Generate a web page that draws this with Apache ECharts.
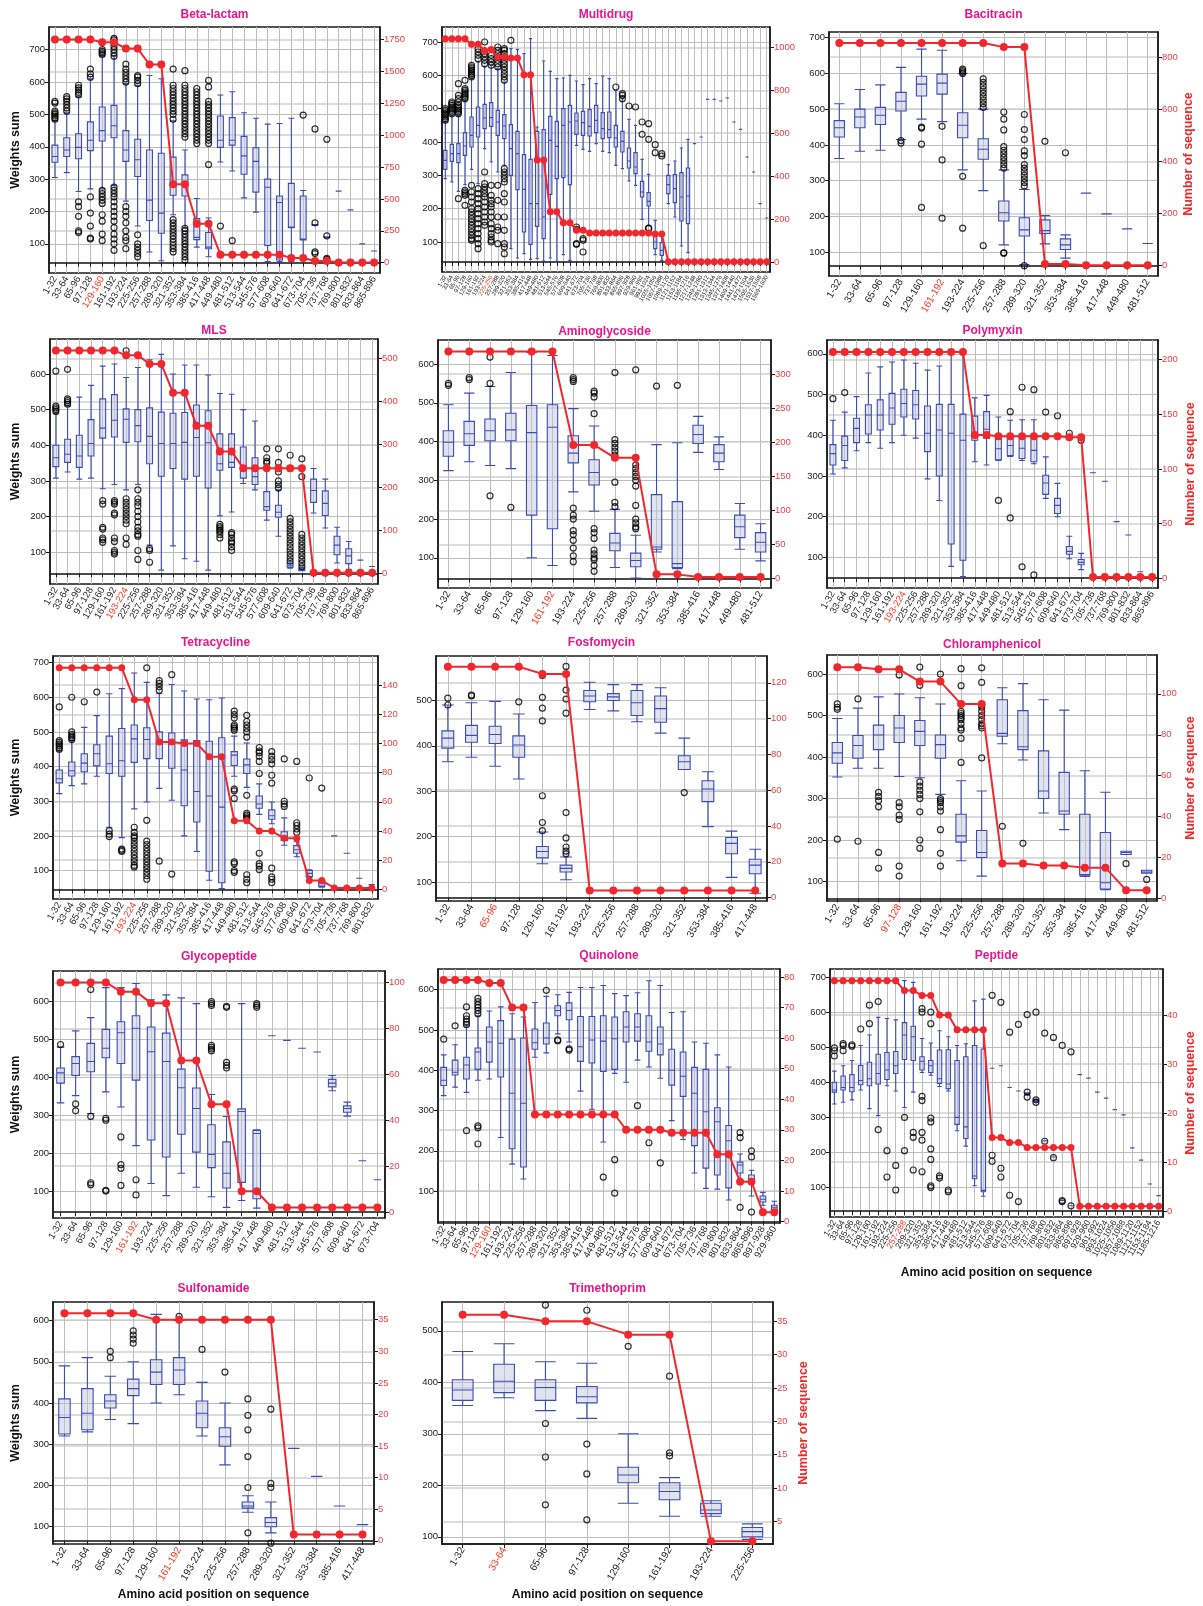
<!DOCTYPE html>
<html><head><meta charset="utf-8">
<script src="https://cdn.jsdelivr.net/npm/echarts@6/dist/echarts.min.js"></script>
<style>html,body{margin:0;padding:0;background:#fff}#c{width:1203px;height:1606px}</style>
</head><body><div id="c"></div>
<script>
// ---------- category (window) labels ----------
const positionLabels = ["1-32","33-64","65-96","97-128","129-160","161-192","193-224","225-256","257-288","289-320","321-352","353-384","385-416","417-448","449-480","481-512","513-544","545-576","577-608","609-640","641-672","673-704","705-736","737-768","769-800","801-832","833-864","865-896","897-928","929-960","961-992","993-1024","1025-1056","1057-1088","1089-1120","1121-1152","1153-1184","1185-1216","1217-1248","1249-1280","1281-1312","1313-1344","1345-1376","1377-1408","1409-1440","1441-1472","1473-1504","1505-1536","1537-1568","1569-1600"];
const highlightWindows = ["129-160","225-256","161-192","193-224","161-192","193-224","193-224","65-96","97-128","161-192","129-160","257-288","161-192","33-64"];

// ---------- tick labels ----------
const weightTicks700 = [100,200,300,400,500,600,700];
const weightTicks600 = [100,200,300,400,500,600];
const weightTicks500 = [100,200,300,400,500];
const betaLactamCountTicks = [0,250,500,750,1000,1250,1500,1750];
const multidrugCountTicks = [0,200,400,600,800,1000];
const bacitracinCountTicks = [0,200,400,600,800];
const mlsCountTicks = [0,100,200,300,400,500];
const aminoCountTicks = [0,50,100,150,200,250,300];
const polymyxinCountTicks = [0,50,100,150,200];
const tetraCountTicks = [0,20,40,60,80,100,120,140];
const fosfoCountTicks = [0,20,40,60,80,100,120];
const chloroCountTicks = [0,20,40,60,80,100];
const glycoCountTicks = [0,20,40,60,80,100];
const quinoCountTicks = [0,10,20,30,40,50,60,70,80];
const peptideCountTicks = [0,10,20,30,40];
const sulfaCountTicks = [0,5,10,15,20,25,30,35];
const trimCountTicks = [5,10,15,20,25,30,35];

// ---------- Beta-lactam ----------
const betaLactamBox = [[305,352,370,405,480],[320,370,390,428,505],[262,363,398,440,555],[270,388,420,477,610],[270,418,450,523,680],[280,428,465,528,680],[232,355,390,450,595],[155,308,360,423,590],[75,172,235,390,620],[48,133,195,380,610],[190,250,290,368,480],[150,248,290,313,390],[90,113,120,178,240],[60,85,90,135,180],[353,398,420,495,560],[325,405,420,490,570],[242,315,372,432,505],[198,260,355,397,488],[45,95,275,300,470],[45,50,228,248,472],[45,150,152,287,488],[48,112,115,248,265],[158,158,159,160,160],[120,120,121,122,122],[263,263,263,263,263],[205,205,205,205,205],[100,100,100,100,100],[78,78,78,78,78]];
const betaLactamOut = [[485,490,495,500,505,510,535,540],[510,520,530,540,548,555],[560,568,575,582,590,230,215,185,140,135],[615,625,640,245,195,155,118,115],[685,690,695,700,265,255,245,235,225,190,170,130,110],[680,690,700,710,720,730,735,275,265,255,245,230,215,200,185,170,150,130,115,100,80],[600,610,620,630,640,655,215,200,185,165,140,120,110,85],[595,605,615,620,128,100,90,80,70,60],[],[],[485,500,510,520,530,540,550,560,570,580,590,640,175,165,155,145,135,125,115,105,95,85,75],[430,440,450,460,470,480,490,500,510,520,530,540,550,560,570,580,590,635,148,140,130,120,110,100,90,80,70,60,50],[410,420,430,440,450,460,470,480,490,500,510,520,530,540,550,560,570,580],[345,410,420,430,440,450,460,470,480,490,500,510,520,530,540,585,605],[155],[110],[],[],[],[],[],[498],[455,165,75,70],[423,125,55,52],[],[],[],[]];
const betaLactamCounts = [1750,1750,1750,1750,1730,1730,1680,1680,1555,1555,615,615,305,305,63,63,63,63,63,63,37,37,13,13,1,1,1,1];

// ---------- Multidrug ----------
const multidrugBox = [[290,318,345,375,460],[280,342,365,393,480],[252,338,365,395,480],[272,360,388,428,525],[318,385,420,475,590],[275,415,450,505,640],[380,440,472,513,625],[340,447,473,518,630],[310,420,460,495,620],[330,410,448,482,580],[80,300,380,452,680],[52,257,365,432,678],[65,130,258,362,665],[48,93,215,348,710],[50,147,215,432,445],[43,110,175,437,643],[52,243,405,477,612],[42,290,387,462,590],[62,293,450,500,592],[45,272,460,510,600],[390,423,463,487,583],[378,420,458,492,572],[372,418,447,497,590],[395,428,465,510,575],[372,410,440,488,598],[368,413,437,490,590],[330,385,412,450,555],[320,370,402,432,530],[283,322,343,382,468],[270,305,325,368,450],[168,235,250,282,348],[150,208,222,248,303],[62,80,100,125,165],[45,60,75,98,125],[215,245,272,300,332],[175,218,260,302,343],[88,163,235,308,382],[68,155,238,322,408],[395,395,395,395,395],[415,415,415,415,415],[528,528,528,528,528],[528,528,528,528,528],[523,523,523,523,523],[532,532,532,532,532],[460,460,460,460,460],[438,438,438,438,438],[355,355,355,355,355],[310,310,310,310,310],[215,215,215,215,215],[172,172,172,172,172]];
const multidrugOut = [[465,470,475,480,485,490,495,500],[485,490,495,500,505,510,515,520],[485,490,495,500,505,510,520,530,540,575,230],[530,535,540,545,550,555,560,585,255,250,245,240,210],[595,600,605,610,615,620,625,630,270,250,235,220,200,190,180,170,160,150,140,130,120,110,105],[650,660,670,680,260,245,230,215,200,185,170,155,140,125,110,95,80],[635,645,655,665,700,310,275,265,255,245,235,220,205,190,175,160,150],[630,640,650,660,270,240,225,215,205,190,175,155,140,125,115,105,100],[625,635,645,655,665,675,685,270,225,175,145,135,95],[585,595,605,615,625,635,645,655,665,675,680,320,310,300,290,280,245,220,175,135,95,85,65],[705],[],[],[],[],[],[],[],[],[],[145,138,95,93],[110,105,70],[],[],[],[],[565],[545,540,530],[508],[505],[460,423],[455,408,142,140],[392,368],[365,358],[],[],[],[],[],[],[],[],[],[],[],[],[],[],[],[]];
const multidrugCounts = [1040,1040,1040,1040,1015,1015,986,990,955,955,950,950,872,872,475,475,234,234,182,182,148,148,135,135,135,135,135,135,135,135,135,135,130,130,1,1,1,1,1,1,1,1,1,1,1,1,1,1,1,1];

// ---------- Bacitracin ----------
const bacitracinBox = [[362,422,448,468,515],[382,448,478,500,555],[385,457,483,505,568],[415,495,522,547,617],[472,537,570,592,668],[465,542,573,598,665],[330,420,455,490,600],[272,360,388,417,500],[120,187,210,243,330],[65,145,162,196,275],[123,152,160,190,202],[83,107,120,137,148],[265,265,265,265,265],[207,207,207,207,207],[165,165,165,165,165],[124,124,124,124,124]];
const bacitracinOut = [[],[],[],[412,405],[450,447,402,225],[452,358,195],[612,608,604,600,312,167],[505,515,525,535,545,555,565,575,585,118],[335,345,355,365,375,385,395,442,472,492,98,97],[285,295,305,315,325,335,345,370,383,415,443,485,62],[410],[378],[],[],[],[]];
const bacitracinCounts = [854,854,854,854,854,854,854,854,838,838,6,6,1,1,1,1];

// ---------- MLS ----------
const mlsBox = [[308,340,365,400,490],[325,352,375,417,510],[305,338,370,428,535],[308,370,405,472,568],[278,420,448,530,622],[290,423,470,542,628],[275,408,473,502,590],[290,410,455,500,618],[120,348,425,505,640],[50,313,405,493,655],[118,335,405,490,600],[82,305,408,492,625],[75,313,422,513,625],[50,280,407,497,597],[202,330,348,432,545],[213,338,352,432,543],[293,308,330,395,500],[275,290,312,365,468],[190,218,228,270,340],[145,198,212,232,275],[55,58,62,70,75],[48,48,50,55,58],[210,240,273,305,335],[168,203,237,272,305],[70,93,120,145,170],[52,68,90,110,130],[78,78,78,78,78],[60,60,60,60,60]];
const mlsOut = [[495,500,505,510,608],[515,520,525,530,613],[],[],[245,235,170,165,140,135,128],[245,240,235,210,205,140,130,105,100,95],[665,250,240,230,220,210,200,190,180,140,122],[275,250,240,230,215,200,185,170,160,150,145,105,80],[110,105,72],[],[],[],[],[],[178,172,168,162,158,150,140],[155,150,140,130,125,115,105],[],[],[390,365,355,350],[390,352,325,300,290,280],[372,335,195,185,175,165,155,145,135,125,115,105,95,85,75],[362,312,150,140,130,120,110,100,90,80,70,60],[],[],[],[],[],[]];
const mlsCounts = [519,519,519,519,519,519,508,508,488,488,421,421,344,344,284,284,245,245,245,245,245,245,1,1,1,1,1,1];

// ---------- Aminoglycoside ----------
const aminoBox = [[325,362,398,428,495],[348,390,420,452,525],[338,402,428,458,542],[330,402,430,473,578],[100,210,423,493,630],[80,175,437,495,622],[270,345,370,415,485],[220,288,320,353,440],[75,118,138,163,225],[48,77,93,112,158],[115,122,128,263,392],[72,75,85,245,397],[372,395,418,442,465],[328,348,370,392,412],[122,152,180,210,240],[92,115,140,165,188]];
const aminoOut = [[545,550],[560,565],[618,550,260],[230],[],[],[565,560,555,228,210,200,170,160,145,125,105,90],[530,525,515,472,175,165,150,120,110,100,95,80,65],[578,405,395,385,375,365,295,243,232],[585,340,330,320,310,300,285,235,200,190,180,175],[543],[545],[],[],[],[]];
const aminoCounts = [333,333,333,333,333,333,196,196,177,177,6,6,2,2,2,2];

// ---------- Polymyxin ----------
const polymyxinBox = [[305,327,355,377,437],[320,338,375,398,457],[362,382,417,442,495],[382,403,450,475,553],[368,413,450,487,568],[382,427,467,503,580],[400,445,478,513,585],[393,440,475,510,577],[293,360,405,472,560],[240,300,413,476,570],[78,133,405,476,600],[53,93,388,452,600],[335,388,405,447,492],[327,393,415,458,498],[338,340,367,390,445],[348,350,375,392,437],[338,343,368,392,438],[330,335,363,392,438],[245,255,283,302,347],[200,208,228,245,282],[97,108,115,127,152],[70,82,88,95,110],[308,308,308,308,308],[287,287,287,287,287],[188,188,188,188,188],[155,155,155,155,155],[65,65,65,65,65],[49,49,49,49,49]];
const polymyxinOut = [[490],[505],[],[],[],[],[],[],[],[],[],[],[],[],[240],[458,197],[518,77],[512,57],[457],[448],[405],[388],[],[],[],[],[],[]];
const polymyxinCounts = [207,207,207,207,207,207,207,207,207,207,207,207,131,131,130,130,130,130,130,130,129,129,1,1,1,1,1,1];

// ---------- Tetracycline ----------
const tetraBox = [[322,353,365,390,445],[345,373,388,413,475],[350,385,410,437,513],[372,402,437,463,547],[225,380,408,488,610],[195,372,417,510,625],[278,412,480,520,670],[298,423,478,512,643],[337,423,470,500,610],[303,395,475,497,637],[200,287,390,477,618],[155,240,328,475,595],[72,98,315,473,593],[48,65,283,483,598],[372,403,433,443,488],[340,380,405,422,468],[262,280,292,315,350],[235,248,258,275,298],[173,187,193,212,252],[140,150,160,172,183],[80,83,92,100,102],[52,55,62,70,70],[200,200,200,200,200],[150,150,150,150,150],[78,78,78,78,78],[60,60,60,60,60]];
const tetraOut = [[450,455,460,465,470,475,572],[478,483,488,493,500,600],[587],[615],[215,205,198],[162,158,155],[225,210,200,195,185,175,165,155,145,135,125,115,110],[685,245,185,175,165,155,145,135,125,115,105,95,85,75],[648,640,630,620,127],[665,90],[],[],[],[],[560,550,540,520,515,510,505,335,330,308,125,120,100,95],[548,530,520,510,500,485,317,265,260,255,250,88,75,65],[455,445,440,430,415,380,150,120,113,103],[443,430,420,408,375,352,107,82,75,65],[422,300,292,285],[415,238,230,220,210],[367],[338],[],[],[],[]];
const tetraCounts = [152,152,152,152,152,152,130,130,101,101,100,100,91,91,47,47,40,40,35,35,6,6,1,1,1,1];

// ---------- Fosfomycin ----------
const fosfoBox = [[365,395,417,433,490],[375,408,423,445,495],[355,405,425,443,498],[327,375,402,422,470],[140,153,167,178,210],[105,122,130,137,155],[480,497,510,522,540],[477,500,508,515,535],[453,467,495,522,535],[428,452,482,510,528],[348,348,365,378,417],[222,277,305,323,343],[110,162,185,198,212],[75,118,137,150,172]];
const fosfoOut = [[490,505],[510,512],[],[497],[555,507,483,455,290,231,213],[575,523,503,472,253,197,177,168,162],[],[],[],[],[297],[],[],[]];
const fosfoCounts = [129,129,129,129,125,125,4,4,4,4,4,4,4,4];

// ---------- Chloramphenicol ----------
const chloroBox = [[352,385,410,435,493],[373,397,428,452,518],[373,418,453,477,545],[353,435,470,500,552],[350,428,462,488,543],[310,397,430,453,528],[150,195,210,262,343],[113,158,170,223,318],[432,450,457,538,567],[393,418,425,512,577],[265,300,318,415,538],[225,262,270,363,513],[112,115,117,262,367],[80,82,97,218,315],[165,165,170,173,173],[120,120,123,127,127]];
const chloroOut = [[528,520,515,202],[540,197],[315,305,295,280,170,132],[598,290,280,260,250,137,113],[617,573,340,330,320,310,300,268,200,180],[600,300,295,290,280,270,225,168,137],[613,572,510,505,500,495,490,480,470,465,445,387],[615,580,525,520,510,500,490,480,475,470,398],[233],[192],[],[],[],[],[143],[105]];
const chloroCounts = [113,113,112,112,106,106,95,95,17,17,16,16,15,15,4,4];

// ---------- Glycopeptide ----------
const glycoBox = [[333,385,412,425,480],[352,405,437,455,523],[305,415,442,490,558],[362,452,477,527,637],[322,437,518,547,637],[220,393,530,563,648],[120,235,468,533,605],[88,190,442,517,618],[147,250,373,422,610],[110,203,318,372,595],[85,162,197,275,355],[57,108,147,230,297],[75,123,310,317,595],[55,80,252,260,262],[510,510,510,510,510],[498,498,498,498,498],[477,477,477,477,477],[467,467,467,467,467],[365,375,385,395,405],[298,308,318,325,335],[180,180,180,180,180],[130,130,130,130,130]];
const glycoOut = [[487],[330,312],[632,297,122,117],[292,287,102,100],[243,170,160,115],[130,90],[],[],[],[],[600,595,590,485,480,475,470],[588,585,440,432,425],[],[595,590,585],[],[],[],[],[],[],[],[]];
const glycoCounts = [100,100,100,100,96,96,91,91,66,66,47,47,9,9,2,2,2,2,2,2,2,2];

// ---------- Quinolone ----------
const quinoBox = [[337,362,375,407,438],[358,388,395,425,463],[345,378,413,432,510],[375,402,445,455,535],[378,420,470,507,547],[233,383,467,523,557],[167,205,343,477,540],[130,160,318,480,532],[432,452,468,502,568],[443,465,480,517,583],[490,535,548,560,587],[470,525,548,567,593],[348,422,458,533,605],[303,418,475,533,605],[222,397,472,535,610],[392,402,478,532,590],[370,470,507,545,585],[425,472,507,540,592],[408,447,470,535,622],[380,438,465,507,610],[275,363,400,452,543],[228,335,385,445,545],[145,213,343,407,470],[107,157,297,402,467],[105,140,272,307,438],[78,108,225,263,408],[120,145,165,172,192],[88,120,130,140,152],[65,73,80,88,97],[45,52,60,65,75]];
const quinoOut = [[477],[510],[513,520,527,535,557,250],[540,548,555,562,570,578,262,257,217],[],[],[],[],[],[598],[475,473],[453,450],[],[],[135],[178,95],[],[312],[220],[170],[],[],[],[],[],[],[245,233,60],[200,185,48],[],[]];
const quinoCounts = [79,79,79,79,78,78,70,70,35,35,35,35,35,35,35,35,30,30,30,30,29,29,29,29,22,22,13,13,3,3];

// ---------- Peptide ----------
const peptideBox = [[338,372,378,400,432],[343,378,385,418,447],[350,373,385,422,462],[378,393,405,448,505],[325,390,410,457,535],[305,395,425,480,585],[390,408,435,485,582],[375,425,447,488,578],[328,465,535,570,690],[372,462,530,560,685],[428,435,460,473,525],[420,428,447,462,512],[388,397,410,492,547],[375,382,395,493,530],[262,280,300,462,505],[218,240,273,473,510],[105,125,133,505,632],[75,88,92,495,637],[440,440,440,440,440],[447,447,447,447,447],[385,385,385,385,385],[375,375,375,375,375],[365,365,367,370,370],[345,345,348,352,352],[233,233,233,233,233],[187,187,187,187,187],[63,63,63,63,63],[48,48,48,48,48],[422,422,422,422,422],[412,412,412,412,412],[372,372,372,372,372],[355,355,355,355,355],[322,322,322,322,322],[307,307,307,307,307],[213,213,213,213,213],[178,178,178,178,178],[110,110,110,110,110],[77,77,77,77,77]];
const peptideOut = [[475,490,498],[490,505,510],[503,507],[552],[620,567],[630,265],[205,130],[163,93],[300,205],[257,243,150],[610,600,360,348,257,235,145],[600,567,298,287,210,180,105,100],[133,127],[93,88],[],[],[],[],[648,192,175],[628,155,130],[543,78],[565,60],[593,372,358],[600,350,343],[540,232],[528,185],[505,63,60],[487,48],[],[],[],[],[],[],[],[],[],[]];
const peptideCounts = [47,47,47,47,47,47,47,47,45,45,44,44,40,40,37,37,37,37,15,15,14,14,13,13,13,13,13,13,1,1,1,1,1,1,1,1,1,1];

// ---------- Sulfonamide ----------
const sulfaBox = [[320,325,365,410,490],[330,335,375,435,510],[360,388,405,420,465],[350,418,435,458,500],[400,445,475,505,615],[420,445,480,510,600],[320,340,375,405,450],[250,295,318,340,400],[135,145,150,160,175],[85,100,110,122,160],[290,290,290,290,290],[222,222,222,222,222],[150,150,150,150,150],[105,105,105,105,105]];
const sulfaOut = [[],[],[510,525],[545,555,565,575],[],[610],[530],[475],[410,370,335,270,195,85],[385,205,195,60],[],[],[],[]];
const sulfaCounts = [36,36,36,36,35,35,35,35,35,35,1,1,1,1];

// ---------- Trimethoprim ----------
const trimBox = [[355,365,385,405,460],[370,380,402,435,475],[345,365,390,405,440],[330,360,372,392,437],[165,205,220,235,300],[140,172,188,205,215],[140,145,152,165,170],[95,100,110,118,125]];
const trimOut = [[],[],[550,320,255,162],[540,280,222,133],[470],[412,263,257],[],[]];
const trimCounts = [36,36,35,35,33,33,2,2];

// ---------- layout / styling of panels ----------
const panels = [
 {name:'Beta-lactam', box:betaLactamBox, out:betaLactamOut, count:betaLactamCounts, yT:weightTicks700, cT:betaLactamCountTicks, rect:[49,27,331,246], yR:[10,770], cR:[-81,1849], xf:9.5, sym:8, ty:15, yName:true},
 {name:'Multidrug', box:multidrugBox, out:multidrugOut, count:multidrugCounts, yT:weightTicks700, cT:multidrugCountTicks, rect:[442,27,328,245], yR:[10,745], cR:[-47,1095], xf:6, sym:7, ty:15},
 {name:'Bacitracin', box:bacitracinBox, out:bacitracinOut, count:bacitracinCounts, yT:weightTicks700, cT:bacitracinCountTicks, rect:[829,32,329,244], yR:[33,716], cR:[-40,896], xf:10, sym:8, ty:15, cName:23},
 {name:'MLS', box:mlsBox, out:mlsOut, count:mlsCounts, yT:weightTicks600, cT:mlsCountTicks, rect:[50,339,328,245], yR:[11,698], cR:[-25,546], xf:9.5, sym:8, ty:331, yName:true},
 {name:'Aminoglycoside', box:aminoBox, out:aminoOut, count:aminoCounts, yT:weightTicks600, cT:aminoCountTicks, rect:[438,340,333,248], yR:[22,662], cR:[-14,350], xf:10, sym:8, ty:332},
 {name:'Polymyxin', box:polymyxinBox, out:polymyxinOut, count:polymyxinCounts, yT:weightTicks600, cT:polymyxinCountTicks, rect:[827,340,331,248], yR:[25,634], cR:[-9,218], xf:9.5, sym:8, ty:331, cName:26},
 {name:'Tetracycline', box:tetraBox, out:tetraOut, count:tetraCounts, yT:weightTicks700, cT:tetraCountTicks, rect:[53,656,325,243], yR:[18,719], cR:[-6.6,160], xf:9.5, sym:7, ty:643, yName:true},
 {name:'Fosfomycin', box:fosfoBox, out:fosfoOut, count:fosfoCounts, yT:weightTicks500, cT:fosfoCountTicks, rect:[436,656,331,245], yR:[58,598], cR:[-1.9,135], xf:10, sym:8, ty:643},
 {name:'Chloramphenicol', box:chloroBox, out:chloroOut, count:chloroCounts, yT:weightTicks600, cT:chloroCountTicks, rect:[827,655,330,246], yR:[53,646], cR:[-1.3,119], xf:10, sym:8, ty:645, cName:27},
 {name:'Glycopeptide', box:glycoBox, out:glycoOut, count:glycoCounts, yT:weightTicks600, cT:glycoCountTicks, rect:[53,971,332,247], yR:[29,681], cR:[-2.6,105], xf:9.5, sym:8, ty:957, yName:true},
 {name:'Quinolone', box:quinoBox, out:quinoOut, count:quinoCounts, yT:weightTicks600, cT:quinoCountTicks, rect:[438,969,342,254], yR:[21,651], cR:[-0.5,82.6], xf:9.5, sym:8, ty:956},
 {name:'Peptide', box:peptideBox, out:peptideOut, count:peptideCounts, yT:weightTicks700, cT:peptideCountTicks, rect:[830,969,333,248], yR:[16,723], cR:[-1.2,49.4], xf:8.5, sym:7, ty:956, cName:21, xNameY:1273},
 {name:'Sulfonamide', box:sulfaBox, out:sulfaOut, count:sulfaCounts, yT:weightTicks600, cT:sulfaCountTicks, rect:[53,1302,321,242], yR:[58,645], cR:[-0.5,37.8], xf:10, sym:8, ty:1289, yName:true, xNameY:1595},
 {name:'Trimethoprim', box:trimBox, out:trimOut, count:trimCounts, yT:weightTicks500, cT:trimCountTicks, rect:[442,1302,331,242], yR:[86,556], cR:[1.6,37.9], xf:10, sym:8, ty:1289, cName:24, xNameY:1595}
];

const FONT = '"Liberation Sans", Arial, Helvetica, sans-serif';
const RED = '#f0282d';
const grids = [], xAxes = [], yAxes = [], series = [], graphics = [];
const plain = (v) => String(v);

panels.forEach((p, i) => {
  const n = p.box.length;
  const cats = positionLabels.slice(0, n);
  const hi = highlightWindows[i];
  const [l, t, w, h] = p.rect;
  grids.push({left:l, top:t, width:w, height:h, show:true, borderColor:'#1a1a1a', borderWidth:1.5, backgroundColor:'#fff'});
  xAxes.push({
    type:'category', gridIndex:i, data:cats, boundaryGap:true,
    axisLine:{show:true, lineStyle:{color:'#1a1a1a', width:1.5}},
    axisTick:{show:true, alignWithLabel:true, interval:0, length:4, lineStyle:{color:'#1a1a1a'}},
    splitLine:{show:true, alignWithLabel:true, interval:0, lineStyle:{color:'#bdbdbd', width:1}},
    axisLabel:{interval:0, rotate:60, fontSize:p.xf, fontFamily:FONT, margin:4,
      color:(v) => v === hi ? '#f5341c' : '#222'}
  });
  yAxes.push({
    type:'value', gridIndex:i, position:'left', min:p.yR[0], max:p.yR[1],
    axisLine:{show:true, lineStyle:{color:'#1a1a1a', width:1.5}},
    axisTick:{show:true, length:4, customValues:p.yT, lineStyle:{color:'#1a1a1a'}},
    axisLabel:{customValues:p.yT, formatter:plain, fontSize:9.5, fontFamily:FONT, color:'#222', margin:4},
    splitLine:{show:true, lineStyle:{color:'#bdbdbd', width:1}},
    name: p.yName ? 'Weights sum' : '', nameLocation:'middle', nameGap: l - 22, nameRotate:90,
    nameTextStyle:{fontWeight:'bold', fontSize:12.5, color:'#111', fontFamily:FONT}
  });
  yAxes.push({
    type:'value', gridIndex:i, position:'right', min:p.cR[0], max:p.cR[1],
    axisLine:{show:true, lineStyle:{color:'#1a1a1a', width:1.5}},
    axisTick:{show:true, length:4, customValues:p.cT, lineStyle:{color:'#1a1a1a'}},
    axisLabel:{customValues:p.cT, formatter:plain, fontSize:9.5, fontFamily:FONT, color:'#f04040', margin:4},
    splitLine:{show:true, lineStyle:{color:'#d0d0d0', width:1.5}},
    name: p.cName ? 'Number of sequence' : '', nameLocation:'middle', nameGap: p.cName || 20, nameRotate:90,
    nameTextStyle:{fontWeight:'bold', fontSize:12.5, color:'#ee2a2a', fontFamily:FONT}
  });
  series.push({type:'boxplot', xAxisIndex:i, yAxisIndex:2*i, data:p.box, boxWidth:['50%','50%'],
    itemStyle:{color:'rgba(188,192,218,0.45)', borderColor:'#3c4cb6', borderWidth:1.1},
    emphasis:{disabled:true}, silent:true, z:2});
  const pts = [];
  p.out.forEach((arr, ci) => arr.forEach(v => pts.push([ci, v])));
  series.push({type:'scatter', xAxisIndex:i, yAxisIndex:2*i, data:pts, symbol:'circle', symbolSize:6,
    itemStyle:{color:'rgba(0,0,0,0)', borderColor:'#000', borderWidth:1.2}, silent:true, z:3});
  series.push({type:'line', xAxisIndex:i, yAxisIndex:2*i+1, data:p.count, symbol:'circle', symbolSize:p.sym,
    showAllSymbol:true, itemStyle:{color:RED}, lineStyle:{color:RED, width:2}, silent:true, z:4});
  graphics.push({type:'text', x:l + w/2, y:p.ty, style:{text:p.name, fill:'#e8168c', font:'bold 12px ' + FONT, textAlign:'center', textVerticalAlign:'middle'}});
  if (p.xNameY) {
    graphics.push({type:'text', x:l + w/2, y:p.xNameY, style:{text:'Amino acid position on sequence', fill:'#111', font:'bold 12px ' + FONT, textAlign:'center', textVerticalAlign:'middle'}});
  }
});

const chart = echarts.init(document.getElementById('c'), null, {renderer:'canvas', width:1203, height:1606});
chart.setOption({
  animation:false,
  backgroundColor:'#fff',
  grid:grids, xAxis:xAxes, yAxis:yAxes, series:series,
  graphic:{elements:graphics}
});
</script>
</body></html>
